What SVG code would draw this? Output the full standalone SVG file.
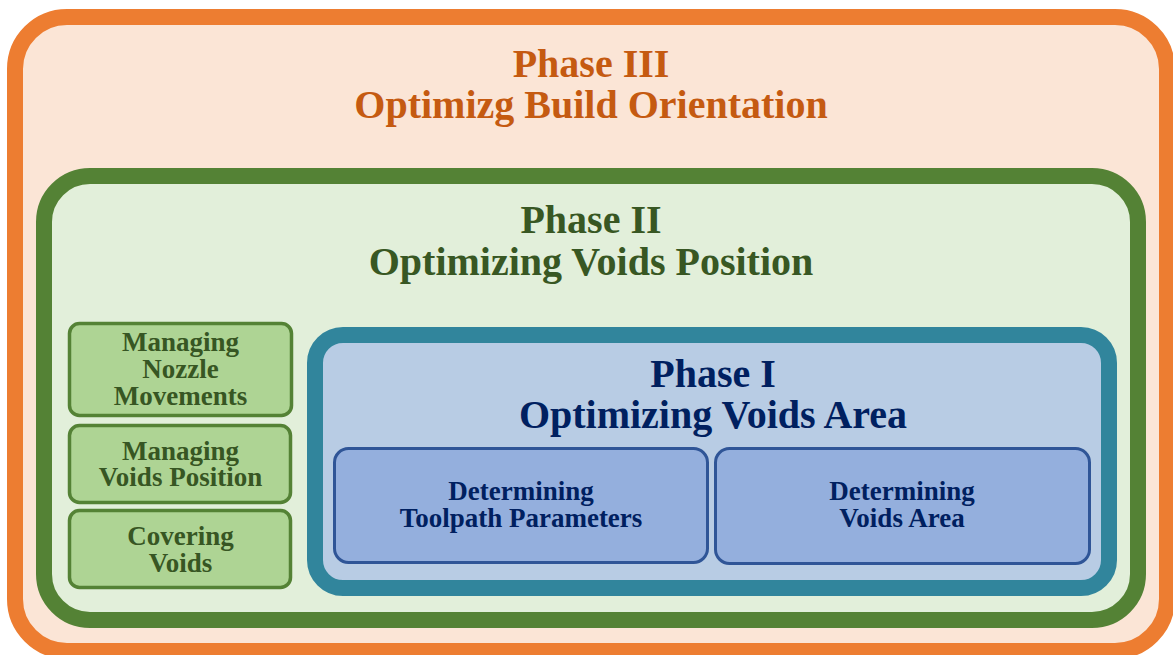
<svg xmlns="http://www.w3.org/2000/svg" width="1173" height="655" viewBox="0 0 1173 655">
<style>
text{font-family:'Liberation Serif','Tinos','DejaVu Serif',serif;font-weight:700;text-anchor:middle}
.t1{font-size:40px;fill:#C55A11}
.t2{font-size:40px;fill:#385723}
.t3{font-size:40px;fill:#002060}
.sg{font-size:27px;fill:#375623}
.sb{font-size:27px;fill:#002060}
.gbox{fill:#AED494;stroke:#548235;stroke-width:3.5}
.bbox{fill:#94AFDD;stroke:#2F5597;stroke-width:3}
</style>
<g id="phase3">
<rect x="15" y="17" width="1152" height="634" rx="52" fill="#FBE5D6" stroke="#ED7D31" stroke-width="16"/>
<text class="t1" x="591" y="77">Phase III</text>
<text class="t1" x="591" y="118">Optimizg Build Orientation</text>
</g>
<g id="phase2">
<rect x="44" y="176" width="1094" height="444" rx="46" fill="#E2EFDA" stroke="#548235" stroke-width="16"/>
<text class="t2" x="591" y="233">Phase II</text>
<text class="t2" x="591" y="275">Optimizing Voids Position</text>
</g>
<g id="nozzle">
<rect class="gbox" x="69.5" y="323.5" width="222" height="92" rx="10"/>
<text class="sg" x="180.5" y="351">Managing</text>
<text class="sg" x="180.5" y="378">Nozzle</text>
<text class="sg" x="180.5" y="405">Movements</text>
</g>
<g id="voidspos">
<rect class="gbox" x="69.5" y="425.5" width="221" height="77" rx="10"/>
<text class="sg" x="180.5" y="460">Managing</text>
<text class="sg" x="180.5" y="486">Voids Position</text>
</g>
<g id="covering">
<rect class="gbox" x="69.5" y="510.5" width="221" height="77" rx="10"/>
<text class="sg" x="180.5" y="545">Covering</text>
<text class="sg" x="180.5" y="572">Voids</text>
</g>
<g id="phase1">
<rect x="315" y="335" width="794" height="253" rx="28" fill="#B8CCE4" stroke="#31859C" stroke-width="16"/>
<text class="t3" x="713" y="387">Phase I</text>
<text class="t3" x="713" y="428">Optimizing Voids Area</text>
</g>
<g id="toolpath">
<rect class="bbox" x="334.5" y="448.5" width="373" height="114" rx="14"/>
<text class="sb" x="521" y="500">Determining</text>
<text class="sb" x="521" y="527">Toolpath Parameters</text>
</g>
<g id="voidsarea">
<rect class="bbox" x="715.5" y="448.5" width="374" height="115" rx="14"/>
<text class="sb" x="902" y="500">Determining</text>
<text class="sb" x="902" y="527">Voids Area</text>
</g>
<g id="connectors"/>
</svg>
